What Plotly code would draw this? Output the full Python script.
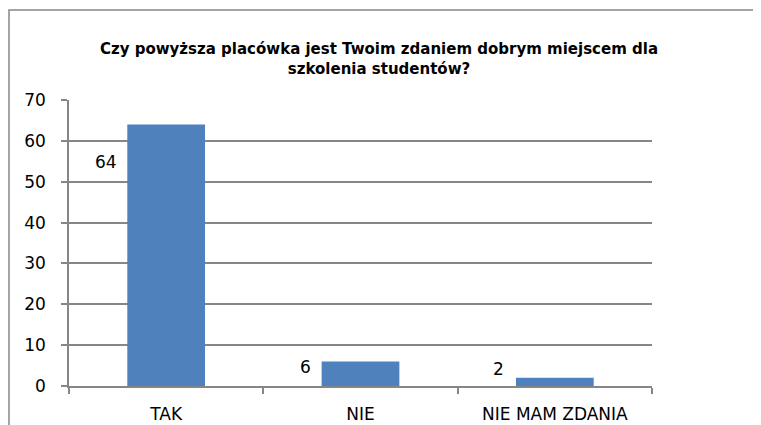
import plotly.graph_objects as go

categories = ["TAK", "NIE", "NIE MAM ZDANIA"]
values = [64, 6, 2]
label_xshift = [-60, -55, -56]
label_yshift = [-37, -6, 9]
title_text = "Czy powyższa placówka jest Twoim zdaniem dobrym miejscem dla<br>szkolenia studentów?"

OFF = 8  # page body margin
W, H = 761 - OFF, 425 - OFF
# target plot area in screen px: x 69..652, y 100..386
L, T = 69 - OFF, 100 - OFF
pw, ph = 583, 286
R = W - L - pw
B = H - T - ph

def sx(px):
    return (px - OFF - L) / pw

def sy(py):
    return (T + ph - (py - OFF)) / ph

FONT = "DejaVu Sans, Open Sans, sans-serif"

fig = go.Figure()
fig.add_trace(go.Bar(
    x=categories, y=values,
    marker=dict(color="#4F81BD", line=dict(width=0)),
    width=0.4,
    hoverinfo="skip",
))

for c, v, dx, dy in zip(categories, values, label_xshift, label_yshift):
    fig.add_annotation(x=c, y=v, text=str(v), showarrow=False,
                       xshift=dx, yshift=dy,
                       font=dict(family=FONT, size=17, color="#000000"))

fig.add_shape(type="rect", xref="paper", yref="paper",
              x0=sx(9), x1=sx(755),
              y0=sy(440), y1=sy(10),
              line=dict(color="#868686", width=1.5), fillcolor="rgba(0,0,0,0)", layer="below")

fig.update_layout(
    width=W, height=H,
    margin=dict(l=L, r=R, t=T, b=B, pad=0, autoexpand=False),
    paper_bgcolor="white", plot_bgcolor="white",
    title=dict(text=title_text, x=((94 + 664) / 2 - OFF) / W, xanchor="center",
               y=1 - (54 - OFF) / H, yanchor="middle",
               font=dict(family="DejaVu Sans, Open Sans, sans-serif", size=15, color="#000000", weight="bold")),
    showlegend=False,
    xaxis=dict(showline=True, linecolor="#868686", linewidth=1.5,
               ticks="outside", ticklen=6, tickcolor="#868686", tickwidth=1.5,
               tickson="boundaries", showgrid=False, ticklabelstandoff=12,
               tickfont=dict(family=FONT, size=17, color="#000000")),
    yaxis=dict(range=[0, 70], tickvals=[0, 10, 20, 30, 40, 50, 60, 70],
               showline=True, linecolor="#868686", linewidth=1.5,
               ticks="outside", ticklen=6, tickcolor="#868686", tickwidth=1.5,
               showgrid=True, gridcolor="#868686", gridwidth=1.5,
               zeroline=False, ticklabelstandoff=12,
               tickfont=dict(family=FONT, size=17, color="#000000")),
)

fig.write_html("out.html")
